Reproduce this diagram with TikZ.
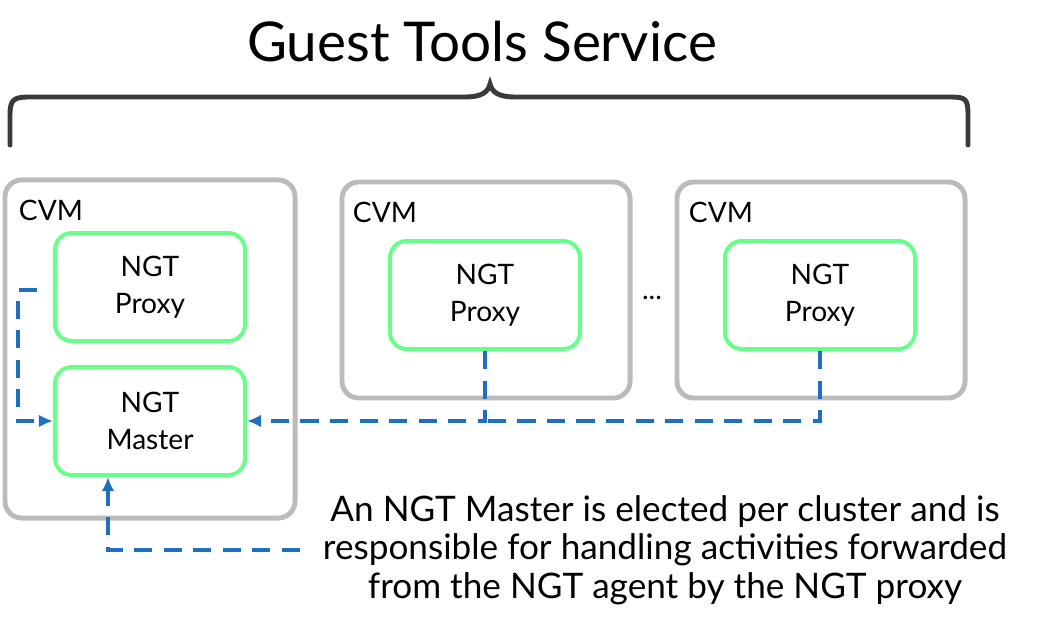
\documentclass[tikz,border=0pt]{standalone}
\usepackage{fontspec}
\setmainfont{Lato}
\usetikzlibrary{positioning,arrows.meta}
\definecolor{cvmgray}{HTML}{BBBBBB}
\definecolor{ngtgreen}{HTML}{66FF88}
\definecolor{linkblue}{HTML}{1F6FC0}
\definecolor{bracegray}{HTML}{3A3A3A}
\tikzset{
	cvm/.style={draw=cvmgray,line width=3.5pt,rounded corners=12pt,minimum width=7.2cm},
	ngt/.style={draw=ngtgreen,line width=2.8pt,rounded corners=12pt,fill=white,
		minimum width=4.75cm,minimum height=2.7cm,align=center,font=\fontsize{20}{26}\selectfont},
	lbl/.style={font=\fontsize{20}{22}\selectfont,anchor=west},
	link/.style={draw=linkblue,line width=2.4pt,dash pattern=on 13pt off 8pt},
	linkarrow/.style={link,-{Latex[length=10pt,width=9pt]}}
}
\begin{document}
\begin{tikzpicture}[x=0.025cm,y=-0.025cm]
	\useasboundingbox (0,0) rectangle (1039,623);

	% title and brace
	\node (title) at (482,42) {\fontsize{39}{44}\selectfont Guest Tools Service};
	\draw[bracegray,line width=3.5pt,line cap=round]
		(10,145) -- (10,115) .. controls (10,99) and (14,97) .. (30,97)
		-- (465,97) .. controls (482,97) and (488,92) .. (490,84)
		.. controls (492,92) and (498,97) .. (515,97) -- (950,97)
		.. controls (966,97) and (968,99) .. (968,115) -- (968,145);

	% cvm boxes
	\node[cvm,minimum width=7.25cm,minimum height=8.45cm] (cvmA) at (150,349) {};
	\node[cvm,minimum height=5.4cm] (cvmB) at (486,290) {};
	\node[cvm,minimum height=5.4cm] (cvmC) at (821,290) {};
	\node[lbl] (cvmAlbl) at (14,210) {CVM};
	\node[lbl] (cvmBlbl) at (348,212) {CVM};
	\node[lbl] (cvmClbl) at (684,212) {CVM};

	% ngt boxes
	\node[ngt] (proxyA) at (150,287) {NGT\\Proxy};
	\node[ngt] (master) at (150,421) {NGT\\Master};
	\node[ngt] (proxyB) at (485,295) {NGT\\Proxy};
	\node[ngt] (proxyC) at (820,295) {NGT\\Proxy};
	\node[font=\fontsize{20}{22}\selectfont] (dots) at (652,298) {...};

	% links
	\coordinate (startA) at (37,290);
	\coordinate (joinB) at (485,421);
	\coordinate (textend) at (300,550);
	\draw[linkarrow] (startA) -- (18,290) |- (master.west);
	\draw[linkarrow] (proxyB.south) -- (joinB) -- (master.east);
	\draw[link] (proxyC.south) |- (joinB);
	\draw[linkarrow] (textend) -| (master.south -| 108,0);

	% note
	\node[align=center,font=\fontsize{25}{27.5}\selectfont] (note) at (665,550)
		{An NGT Master is elected per cluster and is\\responsible for handling activities forwarded\\from the NGT agent by the NGT proxy};
\end{tikzpicture}
\end{document}
